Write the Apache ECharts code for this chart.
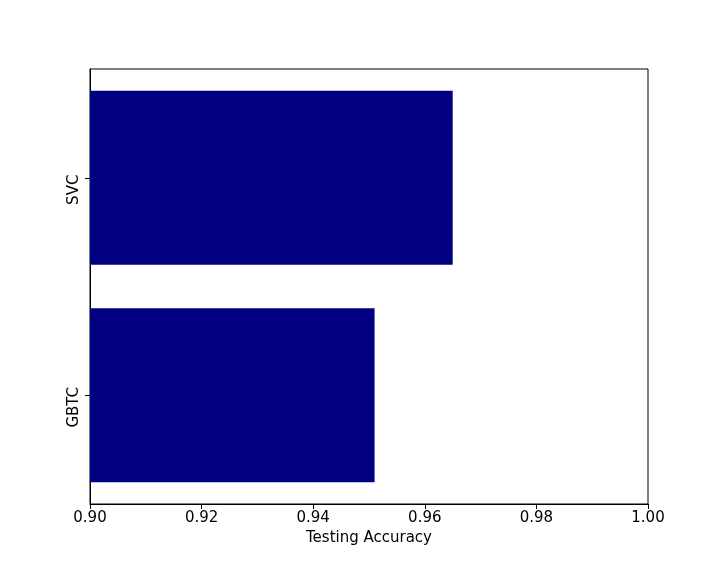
<!DOCTYPE html>
<html>
<head>
<meta charset="utf-8">
<script src="https://cdn.jsdelivr.net/npm/echarts@6/dist/echarts.min.js"></script>
<style>
  html, body { margin: 0; padding: 0; background: #fff; }
  #chart { width: 720px; height: 576px; }
</style>
</head>
<body>
<div id="chart"></div>
<script>
// model names, bottom to top
const models = ['GBTC', 'SVC']
// testing accuracy per model
const accuracy = [0.951, 0.965]
const xTicks = [0.90, 0.92, 0.94, 0.96, 0.98, 1.00]

const font = 'DejaVu Sans'
const chart = echarts.init(document.getElementById('chart'))
chart.setOption({
    animation: false,
    backgroundColor: '#ffffff',
    grid: {
        left: 90, right: 72, top: 69, bottom: 72,
        show: true, borderColor: '#000', borderWidth: 1, backgroundColor: 'transparent'
    },
    xAxis: {
        type: 'value',
        min: xTicks[0],
        max: xTicks[xTicks.length - 1],
        interval: 0.02,
        name: 'Testing Accuracy',
        nameLocation: 'middle',
        nameGap: 27,
        nameTextStyle: { fontFamily: font, fontSize: 15, color: '#000' },
        axisLine: { show: true, lineStyle: { color: '#000', width: 1 } },
        axisTick: { show: true, length: 5, lineStyle: { color: '#000' } },
        axisLabel: {
            fontFamily: font, fontSize: 15, color: '#000', margin: 7,
            formatter: v => v.toFixed(2)
        },
        splitLine: { show: false }
    },
    yAxis: {
        type: 'category',
        data: models,
        axisLine: { show: true, lineStyle: { color: '#000', width: 1 } },
        axisTick: { show: true, length: 5, alignWithLabel: true, lineStyle: { color: '#000' } },
        // matplotlib puts these rotated labels a little below the tick
        axisLabel: {
            fontFamily: font, fontSize: 15, color: '#000', rotate: 90, margin: 8,
            padding: [0, 24, 0, 0]
        },
        splitLine: { show: false }
    },
    series: [
        {
            type: 'bar',
            data: accuracy,
            barWidth: '80%',
            itemStyle: { color: '#000080' }
        }
    ]
})
</script>
</body>
</html>
